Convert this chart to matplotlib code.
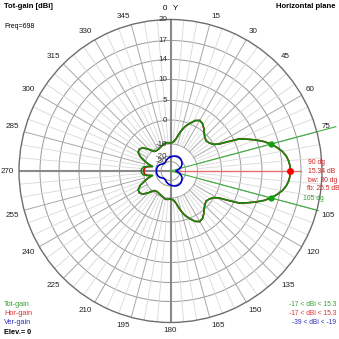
import numpy as np
import matplotlib.pyplot as plt
from matplotlib.transforms import offset_copy

plt.rcParams['font.family'] = ['Liberation Sans', 'DejaVu Sans']

# Tot-gain [dBi] vs azimuth (deg, clockwise from Y / north)
tot_deg = [0, 2, 6, 10, 14, 18, 22, 26, 30, 34, 38, 42, 46, 50, 54, 58, 61, 63, 65, 67.5,
           70, 72.5, 75, 77.5, 80, 82.5, 85, 87.5, 90, 92.5, 95, 97.5, 100, 102.5, 105,
           107.5, 110, 112.5, 115, 117, 119, 122, 126, 130, 134, 138, 142, 146, 150, 154,
           158, 162, 166, 170, 174, 178, 180, 185, 190, 195, 200, 205, 210, 215, 220, 225,
           230, 235, 240, 245, 250, 253, 256, 259, 262, 266, 270, 274, 278, 281, 284, 287,
           290, 295, 300, 305, 310, 315, 320, 325, 330, 335, 340, 345, 350, 355, 360]
tot_db = [-9.6, -9.5, -9.0, -7.5, -4.5, -1.8, 0.1, 1.3, 1.9, 1.6, 0.8, -0.3, -1.3, -1.8, -1.3,
          -0.3, 1.2, 3.5, 6.3, 8.0, 9.8, 11.3, 12.5, 13.5, 14.3, 14.8, 15.1, 15.28, 15.34,
          15.28, 15.1, 14.8, 14.3, 13.5, 12.5, 11.3, 9.8, 8.0, 6.3, 3.5, 1.2, -0.3, -1.3,
          -1.8, -1.3, -0.3, 0.8, 1.6, 1.9, 1.3, 0.1, -1.8, -4.5, -7.5, -9.0, -9.5, -9.6,
          -9.4, -9.3, -9.8, -10.6, -11.3, -11.8, -11.9, -11.2, -8.5, -6.2, -5.4, -5.7, -7.5,
          -10.5, -13.5, -17.0, -12.5, -9.8, -9.2, -9.0, -9.2, -9.8, -12.5, -17.0, -13.5,
          -10.5, -7.5, -5.7, -5.4, -6.2, -8.5, -11.2, -11.9, -11.8, -11.3, -10.6, -9.8,
          -9.3, -9.4, -9.6]

# Hor-gain: same as total except at the rear lobe
hor_deg = tot_deg
rear = {259: -13.5, 262: -11.2, 266: -10.5, 270: -10.2, 274: -10.5, 278: -11.2, 281: -13.5}
hor_db = [rear.get(d, v) for d, v in zip(tot_deg, tot_db)]

# Ver-gain
ver_deg = [0, 10, 20, 30, 40, 50, 60, 70, 80, 90, 100, 110, 120, 130, 140, 150, 160, 170,
           180, 190, 200, 210, 220, 230, 240, 250, 260, 270, 280, 290, 300, 310, 320, 330,
           340, 350, 360]
ver_db = [-21.5, -20.0, -19.2, -19.0, -19.3, -20.5, -23.0, -27.0, -33.0, -39.0, -33.0,
          -27.0, -23.0, -20.5, -19.3, -19.0, -19.2, -20.0, -21.5, -23.5, -26.0, -28.5,
          -29.5, -27.5, -24.5, -22.5, -21.8, -21.6, -21.8, -22.5, -24.5, -27.5, -29.5,
          -28.5, -26.0, -23.5, -21.5]

peak_deg, peak_db = 90, 15.34
hp_deg = [75, 105]
hp_db = [12.5, 12.5]

ring_db = [20, 17, 14, 10, 5, 0, -10, -20, -30]
ang_lbl = [a for a in range(0, 360, 15) if a != 90]

# radial scale (log-like, as in the original plot)
sc_db = [-60, -40, -30, -20, -10, 0, 5, 10, 14, 17, 20, 40]
sc_r = [0, 5, 9.5, 15, 27, 51, 70.5, 91.5, 111.5, 130.5, 151.5, 250]
fwd = lambda v: np.interp(v, sc_db, sc_r)
inv = lambda r: np.interp(r, sc_r, sc_db)

W = H = 339
fig = plt.figure(figsize=(W / 100, H / 100), dpi=100)
cx, cy, R = 170.5, 171, 151.5
ax = fig.add_axes([(cx - R) / W, 1 - (cy + R) / H, 2 * R / W, 2 * R / H], projection='polar')
ax.set_theta_zero_location('N')
ax.set_theta_direction(-1)
ax.set_rscale('function', functions=(fwd, inv))
ax.set_rlim(-60, 20)
ax.set_xticks([])
ax.set_yticks([])
ax.grid(False)
ax.spines['polar'].set_color('#6e6e6e')
ax.spines['polar'].set_linewidth(1.0)

th = np.linspace(0, 2 * np.pi, 721)
for d in ring_db[1:]:
    ax.plot(th, np.full_like(th, d), color='#9a9a9a', lw=0.7, zorder=1)
for a in range(0, 360, 5):
    if a % 90 == 0:
        continue
    major = a % 15 == 0
    ax.plot([np.deg2rad(a)] * 2, [-10, 20], color='#a8a8a8' if major else '#d8d8d8',
            lw=0.7 if major else 0.6, zorder=1)

# main axes
ax.plot([0, 0], [-60, 20], color='#8a8a8a', lw=1.5, zorder=2)
ax.plot([np.pi, np.pi], [-60, 20], color='#8a8a8a', lw=1.5, zorder=2)
ax.plot([1.5 * np.pi] * 2, [-60, 20], color='#8a8a8a', lw=1.5, zorder=2)
ax.plot([np.pi / 2] * 2, [-60, 17], color='#e07070', lw=1.0, zorder=2)

# half-power direction lines (extend outside the circle)
for a, rr in zip(hp_deg, [1.13, 1.01]):
    t = np.deg2rad(a)
    ax.plot([0.5, 0.5 + 0.5 * rr * np.sin(t)], [0.5, 0.5 + 0.5 * rr * np.cos(t)],
            transform=ax.transAxes, color='#40b040', lw=0.8, clip_on=False, zorder=2)

ax.plot(np.deg2rad(hor_deg), hor_db, color='#e00000', lw=1.2, zorder=4)
ax.plot(np.deg2rad(tot_deg), tot_db, color='#108a10', lw=1.2, zorder=5)
ax.plot(np.deg2rad(ver_deg), ver_db, color='#0000c8', lw=1.2, zorder=5)
ax.plot(np.deg2rad(hp_deg), hp_db, 'o', color='#10a010', ms=3.5, zorder=6)
ax.plot(np.deg2rad(peak_deg), peak_db, 'o', color='#ff0000', ms=4, zorder=6)

fs = 5.8
lab_off = offset_copy(ax.transData, fig=fig, x=-3, y=0, units='dots')
for d in ring_db:
    ax.text(0, d, str(d), transform=lab_off, ha='right', va='center', fontsize=fs,
            color='#303030', zorder=7)

for a in ang_lbl:
    if a == 0:
        continue
    t = np.deg2rad(a)
    s, c = np.sin(t), np.cos(t)
    ha = 'left' if s > 0.2 else ('right' if s < -0.2 else 'center')
    va = 'bottom' if c > 0.2 else ('top' if c < -0.2 else 'center')
    rr = 0.5 * (1 + 5 / R)
    ax.text(0.5 + rr * s, 0.5 + rr * c, str(a), transform=ax.transAxes, ha=ha, va=va,
            fontsize=fs, color='#202020')


def ftxt(x, y, s, **kw):
    kw.setdefault('fontsize', fs)
    fig.text(x / W, 1 - y / H, s, **kw)


ftxt(167, 9, '0', ha='right', va='center')
ftxt(173, 9, 'Y', ha='left', va='center')
ftxt(4, 7, 'Tot-gain [dBi]', ha='left', va='center', fontweight='bold', fontsize=5.5)
ftxt(4, 27, 'Freq=698', ha='left', va='center', fontsize=5.0)
ftxt(335, 7, 'Horizontal plane', ha='right', va='center', fontweight='bold', fontsize=5.5)

red_txt = '#d02020'
afs = 4.9
ftxt(308, 163, '90 dg', ha='left', va='center', color=red_txt, fontsize=afs)
ftxt(308, 171.5, '15.34 dB', ha='left', va='center', color=red_txt, fontsize=afs)
ftxt(308, 180.5, 'bw: 30 dg', ha='left', va='center', color=red_txt, fontsize=afs)
ftxt(307, 189, 'fb: 25.5 dB', ha='left', va='center', color=red_txt, fontsize=afs)
ftxt(303, 199, '105 dg', ha='left', va='center', color='#30a030', fontsize=afs)

lfs = 5.3
ftxt(4, 304, 'Tot-gain', ha='left', va='center', color='#30a030', fontsize=lfs)
ftxt(4, 313.5, 'Hor-gain', ha='left', va='center', color='#e03030', fontsize=lfs)
ftxt(4, 323, 'Ver-gain', ha='left', va='center', color='#3030c0', fontsize=lfs)
ftxt(4, 333, 'Elev.= 0', ha='left', va='center', fontweight='bold', fontsize=lfs)
rfs = 4.8
ftxt(336, 304, '-17 < dBi < 15.3', ha='right', va='center', color='#30a030', fontsize=rfs)
ftxt(336, 313.5, '-17 < dBi < 15.3', ha='right', va='center', color='#e03030', fontsize=rfs)
ftxt(336, 323, '-39 < dBi < -19', ha='right', va='center', color='#3030c0', fontsize=rfs)

fig.savefig('out.png', dpi=100, facecolor='white')
